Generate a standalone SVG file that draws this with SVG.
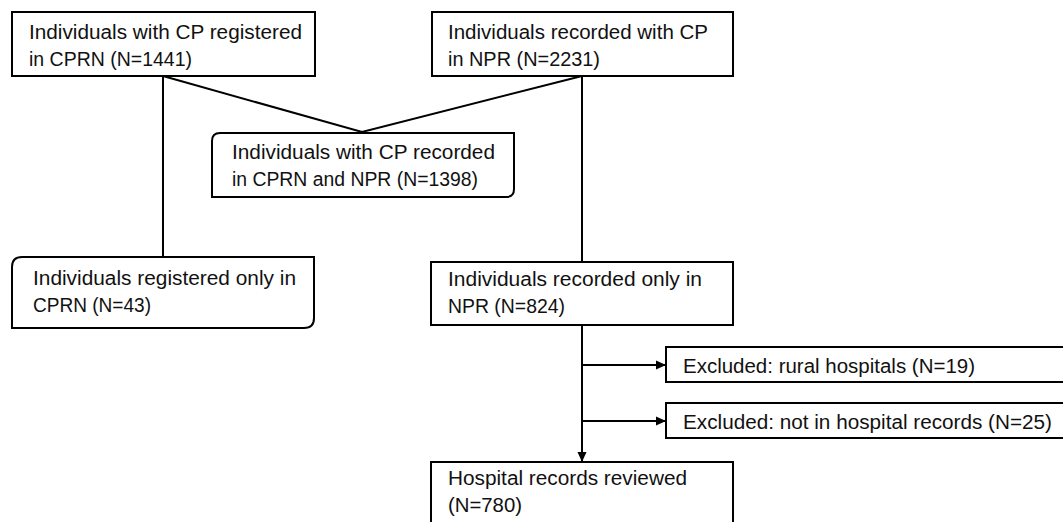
<svg xmlns="http://www.w3.org/2000/svg" width="1063" height="522" viewBox="0 0 1063 522">
<style>
.box{fill:#fff;stroke:#000;stroke-width:2}
.t{font-family:"Liberation Sans",Arial,sans-serif;font-size:20px;fill:#111}
.c{fill:none;stroke:#000;stroke-width:2}
</style>
<defs>
<marker id="ah" markerWidth="10" markerHeight="10" refX="9" refY="5" orient="auto" markerUnits="userSpaceOnUse">
<path d="M0,0.5 L10,5 L0,9.5 Z" fill="#000"/>
</marker>
</defs>
<rect width="1063" height="522" fill="#fff"/>
<g id="connectors">
<path class="c" d="M163,76 V257"/>
<path class="c" d="M163,76 L362,132 L582,76"/>
<path class="c" d="M582,76 V262"/>
<path class="c" d="M582,325 V461" marker-end="url(#ah)"/>
<path class="c" d="M582,365 H665" marker-end="url(#ah)"/>
<path class="c" d="M582,421 H665" marker-end="url(#ah)"/>
</g>
<g id="n1">
<rect class="box" x="12" y="12" width="303" height="64"/>
<text class="t" x="29" y="39" textLength="273" lengthAdjust="spacingAndGlyphs">Individuals with CP registered</text>
<text class="t" x="29" y="66" textLength="163" lengthAdjust="spacingAndGlyphs">in CPRN (N=1441)</text>
</g>
<g id="n2">
<rect class="box" x="432" y="12" width="301" height="64"/>
<text class="t" x="448" y="39" textLength="260" lengthAdjust="spacingAndGlyphs">Individuals recorded with CP</text>
<text class="t" x="448" y="66" textLength="152" lengthAdjust="spacingAndGlyphs">in NPR (N=2231)</text>
</g>
<g id="n3">
<path class="box" d="M220,133 H514 V189 Q514,197 506,197 H212 V141 Q212,133 220,133 Z"/>
<text class="t" x="232" y="159" textLength="263" lengthAdjust="spacingAndGlyphs">Individuals with CP recorded</text>
<text class="t" x="232" y="186" textLength="246" lengthAdjust="spacingAndGlyphs">in CPRN and NPR (N=1398)</text>
</g>
<g id="n4">
<path class="box" d="M22,257 H314 V318 Q314,328 304,328 H12 V267 Q12,257 22,257 Z"/>
<text class="t" x="33" y="285" textLength="263" lengthAdjust="spacingAndGlyphs">Individuals registered only in</text>
<text class="t" x="33" y="312" textLength="118" lengthAdjust="spacingAndGlyphs">CPRN (N=43)</text>
</g>
<g id="n5">
<rect class="box" x="431" y="262" width="302" height="63"/>
<text class="t" x="448" y="286" textLength="254" lengthAdjust="spacingAndGlyphs">Individuals recorded only in</text>
<text class="t" x="448" y="313" textLength="117" lengthAdjust="spacingAndGlyphs">NPR (N=824)</text>
</g>
<g id="n6">
<rect class="box" x="666" y="347" width="410" height="35"/>
<text class="t" x="683" y="373" textLength="292" lengthAdjust="spacingAndGlyphs">Excluded: rural hospitals (N=19)</text>
</g>
<g id="n7">
<rect class="box" x="666" y="403" width="410" height="35"/>
<text class="t" x="683" y="429" textLength="369" lengthAdjust="spacingAndGlyphs">Excluded: not in hospital records (N=25)</text>
</g>
<g id="n8">
<rect class="box" x="431" y="462" width="302" height="80"/>
<text class="t" x="448" y="485" textLength="239" lengthAdjust="spacingAndGlyphs">Hospital records reviewed</text>
<text class="t" x="448" y="512" textLength="74" lengthAdjust="spacingAndGlyphs">(N=780)</text>
</g>
</svg>
